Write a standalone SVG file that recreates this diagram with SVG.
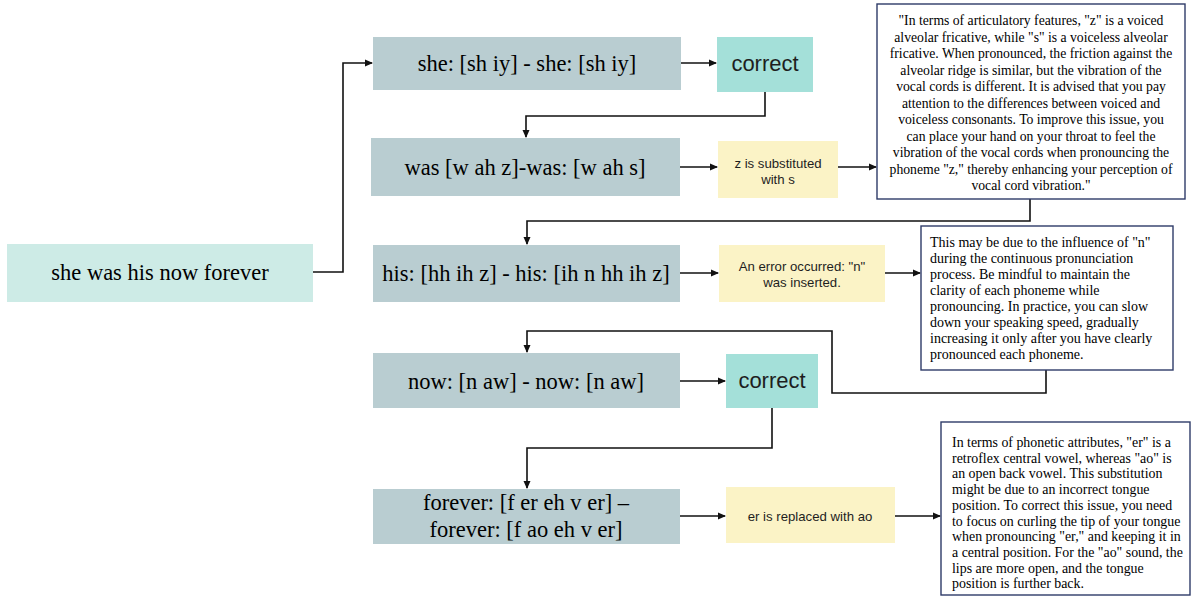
<svg xmlns="http://www.w3.org/2000/svg" width="1192" height="599" viewBox="0 0 1192 599">
  <style>
    .start { fill: #cdebe6; }
    .word { fill: #b9cdd1; }
    .ok { fill: #a4e0d9; }
    .err { fill: #fbf3c6; }
    .note { fill: #ffffff; stroke: #2e3b68; stroke-width: 1.4; }
    .serif { font-family: "Liberation Serif", "Times New Roman", serif; fill: #000; }
    .sans { font-family: "Liberation Sans", Arial, sans-serif; fill: #1e1e1e; }
    .big { font-size: 22.5px; text-anchor: middle; }
    .ok-t { font-size: 22px; text-anchor: middle; }
    .err-t { font-size: 13.2px; text-anchor: middle; }
    .n1 { font-size: 13.7px; text-anchor: middle; }
    .n2 { font-size: 14px; }
    .n3 { font-size: 13.9px; }
    .link { fill: none; stroke: #111; stroke-width: 1.6; marker-end: url(#arrow); }
  </style>
  <defs>
    <marker id="arrow" markerWidth="8" markerHeight="8" refX="7" refY="4" orient="auto" markerUnits="userSpaceOnUse">
      <path d="M0,0.5 L8,4 L0,7.5 Z" fill="#111"/>
    </marker>
  </defs>

  <rect width="1192" height="599" fill="#ffffff"/>

  <!-- connectors -->
  <g id="connectors">
    <path class="link" d="M313,272 H343 V63 H372"/>
    <path class="link" d="M681,63 H716"/>
    <path class="link" d="M765,92 V116 H526 V137"/>
    <path class="link" d="M680,167 H717"/>
    <path class="link" d="M838,167 H876"/>
    <path class="link" d="M1030,199 V221 H527 V244"/>
    <path class="link" d="M680,273 H718"/>
    <path class="link" d="M885,273 H920"/>
    <path class="link" d="M1046,370 V393 H832 V331 H527 V352"/>
    <path class="link" d="M680,381 H725"/>
    <path class="link" d="M772,408 V448 H527 V488"/>
    <path class="link" d="M680,516 H725"/>
    <path class="link" d="M895,516 H940"/>
  </g>

  <!-- sentence -->
  <g id="sentence">
    <rect class="start" x="7" y="244" width="306" height="58"/>
    <text class="serif big" x="160" y="280">she was his now forever</text>
  </g>

  <!-- word: she -->
  <g id="word-she">
    <rect class="word" x="373" y="37" width="308" height="53"/>
    <text class="serif big" x="527" y="71">she: [sh iy] - she: [sh iy]</text>
  </g>
  <g id="result-she">
    <rect class="ok" x="717" y="37" width="96" height="55"/>
    <text class="sans ok-t" x="765" y="71">correct</text>
  </g>

  <!-- word: was -->
  <g id="word-was">
    <rect class="word" x="371" y="138" width="309" height="58"/>
    <text class="serif big" x="525" y="175">was [w ah z]-was: [w ah s]</text>
  </g>
  <g id="result-was">
    <rect class="err" x="718" y="141" width="120" height="57"/>
    <text class="sans err-t" x="778" y="167.5">z is substituted</text>
    <text class="sans err-t" x="778" y="183.5">with s</text>
  </g>
  <g id="advice-was">
    <rect class="note" x="877" y="4" width="308" height="195"/>
    <text class="serif n1" x="1031" y="25">"In terms of articulatory features, "z" is a voiced</text>
    <text class="serif n1" x="1031" y="41.5">alveolar fricative, while "s" is a voiceless alveolar</text>
    <text class="serif n1" x="1031" y="58">fricative. When pronounced, the friction against the</text>
    <text class="serif n1" x="1031" y="74.5">alveolar ridge is similar, but the vibration of the</text>
    <text class="serif n1" x="1031" y="91">vocal cords is different. It is advised that you pay</text>
    <text class="serif n1" x="1031" y="107.5">attention to the differences between voiced and</text>
    <text class="serif n1" x="1031" y="124">voiceless consonants. To improve this issue, you</text>
    <text class="serif n1" x="1031" y="140.5">can place your hand on your throat to feel the</text>
    <text class="serif n1" x="1031" y="157">vibration of the vocal cords when pronouncing the</text>
    <text class="serif n1" x="1031" y="173.5">phoneme "z," thereby enhancing your perception of</text>
    <text class="serif n1" x="1031" y="190">vocal cord vibration."</text>
  </g>

  <!-- word: his -->
  <g id="word-his">
    <rect class="word" x="373" y="245" width="307" height="57"/>
    <text class="serif big" x="526" y="281">his: [hh ih z] - his: [ih n hh ih z]</text>
  </g>
  <g id="result-his">
    <rect class="err" x="719" y="245" width="166" height="57"/>
    <text class="sans err-t" x="802" y="271">An error occurred: "n"</text>
    <text class="sans err-t" x="802" y="287">was inserted.</text>
  </g>
  <g id="advice-his">
    <rect class="note" x="921" y="226" width="252" height="144"/>
    <text class="serif n2" x="930" y="247">This may be due to the influence of "n"</text>
    <text class="serif n2" x="930" y="263">during the continuous pronunciation</text>
    <text class="serif n2" x="930" y="279">process. Be mindful to maintain the</text>
    <text class="serif n2" x="930" y="295">clarity of each phoneme while</text>
    <text class="serif n2" x="930" y="311">pronouncing. In practice, you can slow</text>
    <text class="serif n2" x="930" y="327">down your speaking speed, gradually</text>
    <text class="serif n2" x="930" y="343">increasing it only after you have clearly</text>
    <text class="serif n2" x="930" y="359">pronounced each phoneme.</text>
  </g>

  <!-- word: now -->
  <g id="word-now">
    <rect class="word" x="373" y="353" width="307" height="55"/>
    <text class="serif big" x="526" y="389">now: [n aw] - now: [n aw]</text>
  </g>
  <g id="result-now">
    <rect class="ok" x="726" y="354" width="92" height="54"/>
    <text class="sans ok-t" x="772" y="388">correct</text>
  </g>

  <!-- word: forever -->
  <g id="word-forever">
    <rect class="word" x="373" y="489" width="307" height="55"/>
    <text class="serif big" x="526" y="510">forever: [f er eh v er] –</text>
    <text class="serif big" x="526" y="537">forever: [f ao eh v er]</text>
  </g>
  <g id="result-forever">
    <rect class="err" x="726" y="487" width="169" height="56"/>
    <text class="sans err-t" x="810" y="521">er is replaced with ao</text>
  </g>
  <g id="advice-forever">
    <rect class="note" x="941" y="422" width="249" height="173"/>
    <text class="serif n3" x="952" y="447">In terms of phonetic attributes, "er" is a</text>
    <text class="serif n3" x="952" y="462.7">retroflex central vowel, whereas "ao" is</text>
    <text class="serif n3" x="952" y="478.4">an open back vowel. This substitution</text>
    <text class="serif n3" x="952" y="494.1">might be due to an incorrect tongue</text>
    <text class="serif n3" x="952" y="509.8">position. To correct this issue, you need</text>
    <text class="serif n3" x="952" y="525.5">to focus on curling the tip of your tongue</text>
    <text class="serif n3" x="952" y="541.2">when pronouncing "er," and keeping it in</text>
    <text class="serif n3" x="952" y="556.9">a central position. For the "ao" sound, the</text>
    <text class="serif n3" x="952" y="572.6">lips are more open, and the tongue</text>
    <text class="serif n3" x="952" y="588.3">position is further back.</text>
  </g>
</svg>
